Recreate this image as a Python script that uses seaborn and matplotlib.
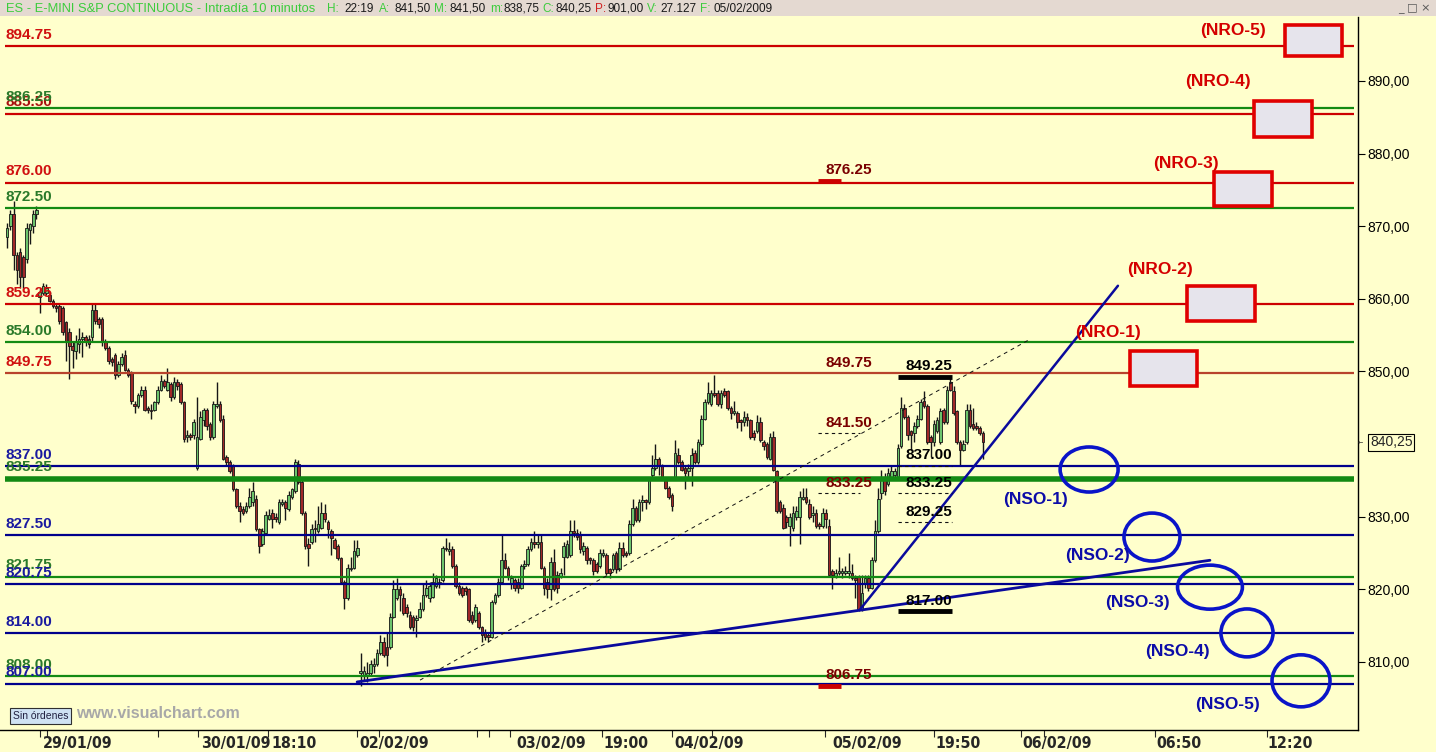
import numpy as np
import pandas as pd
import matplotlib
matplotlib.use("Agg")
import matplotlib.pyplot as plt
import matplotlib.ticker as ticker
import matplotlib.transforms as mtrans
from matplotlib import font_manager as fm
from matplotlib.patches import Rectangle, Ellipse
import seaborn as sns

# velas de 10 minutos (29/01/09 - 05/02/09)
opens = [868.5, 870.0, 871.75, 866.0, 866.5, 865.75, 865.5, 869.5, 870.0, 871.75,
         860.25, 860.75, 860.75, 860.5, 859.75, 859.0, 859.0, 858.75, 856.75, 855.5,
         853.5, 852.75, 853.75, 854.5, 854.75, 854.5, 854.75, 858.5, 857.25, 857.25,
         854.25, 853.25, 851.75, 852.25, 849.5, 851.0, 852.25, 850.25, 849.75, 845.5,
         845.25, 846.75, 847.5, 845.0, 844.75, 844.75, 845.75, 847.5, 848.75, 847.5,
         848.25, 846.5, 848.5, 848.25, 845.75, 841.0, 841.25, 841.25,
         836.75, 840.75, 843.25, 844.75, 842.75, 841.0, 845.25, 845.5, 843.5, 838.25,
         837.5, 837.0, 833.75, 831.5, 831.0, 830.75, 831.5, 832.0, 832.5, 828.25,
         826.25, 827.75, 829.75, 830.5, 830.0, 829.25, 831.75, 832.0, 831.0, 832.75,
         833.5, 837.25, 834.75, 830.5, 826.25, 826.5, 828.5, 828.0, 828.5, 830.5,
         829.25, 828.0, 826.75, 826.0, 824.25, 821.0, 818.75, 822.75, 823.0, 824.75,
         808.5, 808.25, 808.25, 808.5, 809.5, 809.75, 811.25, 812.75, 812.0, 812.0,
         816.25, 818.75, 820.0, 818.75, 817.5, 816.5, 816.25, 815.75, 816.25, 817.25,
         819.25, 818.75, 819.0, 820.5, 820.75, 821.25, 825.75, 825.25, 825.5, 823.25,
         820.5, 820.25, 820.25, 820.0, 816.5, 815.75, 816.75, 814.75, 814.0, 813.75,
         813.5, 818.25, 819.25, 821.0, 824.0, 823.0, 820.75, 821.25, 821.0, 820.25,
         823.25, 823.5, 825.5, 826.5, 826.25, 826.5, 823.0, 821.0, 820.0, 823.75,
         822.0, 821.75, 824.5, 824.5, 824.75, 828.0, 827.75, 827.5, 825.25, 825.75,
         824.25, 824.0, 823.5, 823.25, 824.75, 824.75, 822.75, 822.75, 825.0, 822.75,
         825.75, 825.0, 825.0, 829.0, 831.25, 829.5, 832.0, 832.25, 832.0, 835.75,
         836.75, 838.0, 837.0, 835.25, 834.0, 833.0, 835.25, 838.5, 837.5, 836.75,
         836.25, 836.75, 838.75, 837.5, 840.0, 843.5, 845.75, 845.5, 847.0, 847.0,
         845.5, 847.25, 847.25, 845.0, 844.25, 844.25, 843.25, 843.0, 843.75, 843.25,
         841.5, 841.75, 843.0, 840.25, 840.0, 838.0, 841.0, 836.25, 832.0, 831.25,
         830.0, 828.75, 828.5, 830.0, 830.0, 832.5, 832.75, 831.75, 830.25, 830.5,
         829.0, 828.75, 830.5, 828.75, 822.5, 821.75, 822.25, 822.25, 822.25, 822.25,
         822.25, 821.5, 821.75, 817.25, 820.75, 821.5, 820.25, 824.0, 828.0, 833.25,
         835.5, 834.5, 835.25, 835.75, 835.5, 839.75, 845.0, 843.75, 841.75, 841.5,
         842.5, 843.5, 846.0, 845.25, 841.0, 840.25, 841.75, 840.25, 844.75, 843.0,
         848.5, 847.25, 844.5, 840.25, 839.25, 840.25, 844.75, 842.75, 842.5, 842.25,
         841.5]
highs = [870.5, 872.25, 873.5, 866.5, 867.0, 866.0, 870.5, 870.5, 872.25, 872.75,
         861.5, 862.25, 862.0, 861.0, 860.0, 859.25, 859.25, 859.0, 857.0, 856.0,
         854.0, 855.0, 856.0, 855.5, 855.0, 855.0, 859.25, 859.25, 857.5, 857.5,
         854.5, 853.5, 852.0, 852.5, 851.5, 852.5, 853.0, 850.5, 850.0, 846.0,
         847.0, 848.0, 848.0, 845.25, 845.5, 846.0, 848.0, 849.5, 849.0, 850.5,
         848.5, 849.25, 849.0, 848.5, 846.0, 842.0, 841.5, 843.5,
         846.5, 844.5, 845.0, 845.0, 843.0, 846.0, 848.5, 846.0, 844.0, 838.5,
         837.75, 837.25, 834.0, 832.0, 831.5, 832.0, 834.0, 834.75, 833.0, 828.5,
         828.5, 830.75, 831.0, 831.0, 830.5, 832.5, 832.5, 832.25, 833.5, 834.0,
         838.0, 837.75, 835.0, 830.75, 827.0, 829.0, 829.5, 831.5, 832.0, 831.75,
         829.5, 828.25, 827.0, 826.25, 824.5, 821.25, 823.5, 824.5, 826.75, 826.75,
         811.25, 809.5, 810.0, 810.25, 810.5, 811.75, 813.75, 813.5, 814.0, 816.75,
         821.25, 821.5, 820.5, 819.5, 818.0, 817.0, 816.5, 816.5, 818.25, 820.75,
         821.25, 821.0, 822.25, 822.0, 821.5, 826.0, 827.0, 826.5, 826.0, 823.5,
         821.0, 820.5, 820.5, 820.25, 817.0, 818.0, 817.0, 815.0, 814.5, 814.0,
         818.5, 819.5, 821.5, 827.5, 825.0, 823.25, 822.0, 821.5, 821.5, 823.5,
         824.0, 826.0, 827.0, 828.0, 827.5, 827.5, 823.25, 821.5, 824.5, 825.5,
         822.5, 823.0, 826.5, 826.75, 829.5, 829.5, 828.25, 828.0, 826.5, 826.0,
         824.5, 824.25, 823.75, 825.5, 825.5, 825.0, 823.0, 825.0, 825.25, 826.5,
         826.5, 825.25, 829.5, 832.5, 831.5, 832.5, 833.0, 832.5, 835.5, 838.5,
         840.0, 838.25, 837.25, 835.5, 834.25, 833.25, 840.5, 839.5, 837.75, 837.0,
         837.25, 839.5, 839.25, 840.75, 844.0, 846.25, 848.5, 847.5, 849.5, 847.5,
         847.5, 847.75, 847.5, 845.25, 846.0, 844.5, 843.5, 844.5, 844.25, 843.5,
         842.0, 844.0, 843.75, 840.5, 840.25, 841.5, 841.75, 836.5, 832.25, 831.75,
         830.25, 830.5, 831.5, 831.5, 833.5, 834.0, 834.0, 832.5, 831.5, 831.0,
         829.25, 831.25, 831.0, 829.75, 822.75, 822.75, 824.5, 823.0, 823.25, 825.0,
         823.5, 822.0, 822.0, 822.0, 822.0, 822.0, 824.5, 829.5, 834.0, 836.5,
         836.0, 836.75, 837.0, 836.75, 840.0, 846.5, 845.5, 844.0, 842.0, 843.0,
         844.0, 846.25, 847.25, 845.5, 841.25, 843.25, 843.75, 845.0, 845.0, 848.0,
         849.25, 848.0, 844.75, 840.5, 840.5, 845.5, 845.5, 845.0, 843.0, 842.5,
         841.75]
lows = [867.0, 869.5, 864.0, 862.0, 861.5, 861.5, 865.0, 867.5, 869.0, 871.0,
        858.0, 860.5, 860.5, 859.5, 858.75, 858.25, 856.5, 855.0, 851.5, 849.0,
        850.5, 851.75, 852.5, 852.0, 853.5, 853.25, 854.25, 856.5, 856.0, 853.5,
        853.0, 851.0, 850.75, 849.0, 849.25, 850.75, 850.0, 849.25, 845.5, 844.25,
        845.0, 846.5, 844.5, 844.25, 843.5, 844.5, 845.5, 847.25, 847.75, 847.25,
        846.0, 846.25, 847.5, 845.5, 840.25, 840.25, 840.5, 840.75,
        836.5, 840.5, 842.5, 842.0, 840.5, 840.75, 845.0, 843.0, 837.75, 837.0,
        836.0, 833.5, 831.25, 829.25, 830.25, 830.5, 831.25, 831.5, 828.0, 825.0,
        826.0, 827.5, 829.5, 828.5, 829.25, 829.0, 831.5, 829.5, 830.75, 832.5,
        833.25, 834.5, 830.25, 825.5, 823.25, 826.25, 826.5, 827.75, 828.25, 829.25,
        827.0, 824.75, 825.5, 824.0, 820.75, 817.25, 818.5, 822.5, 822.75, 824.5,
        806.75, 807.5, 807.25, 808.0, 808.5, 809.5, 811.0, 810.75, 809.5, 811.75,
        816.0, 818.5, 817.0, 816.5, 816.25, 814.5, 814.25, 813.5, 816.0, 817.0,
        819.0, 818.25, 818.75, 820.25, 820.25, 821.0, 825.25, 824.75, 823.0, 820.25,
        819.25, 819.0, 819.25, 815.5, 815.25, 815.5, 814.5, 812.75, 813.0, 812.75,
        813.25, 818.0, 819.0, 820.75, 822.75, 821.25, 820.0, 819.75, 819.5, 820.0,
        822.75, 823.25, 825.25, 825.75, 825.75, 822.75, 819.25, 818.75, 818.5, 819.75,
        819.5, 821.5, 822.0, 824.25, 824.5, 827.25, 826.75, 825.0, 824.75, 823.5,
        823.5, 822.0, 822.25, 823.0, 824.5, 822.0, 821.5, 822.5, 822.25, 822.5,
        824.5, 824.5, 824.75, 828.75, 829.25, 829.25, 830.75, 831.0, 831.75, 835.5,
        836.5, 835.75, 835.0, 833.75, 832.5, 830.75, 835.0, 837.25, 836.25, 833.75,
        835.5, 834.25, 837.25, 837.25, 839.75, 843.25, 845.5, 845.25, 846.5, 845.25,
        845.0, 846.5, 844.75, 843.5, 844.0, 842.25, 841.75, 842.5, 842.5, 840.75,
        840.5, 841.5, 840.25, 839.25, 838.0, 837.75, 836.25, 830.5, 830.5, 828.25,
        828.5, 826.0, 828.0, 829.5, 826.25, 832.25, 831.75, 829.75, 829.25, 828.5,
        828.25, 828.5, 828.5, 821.75, 820.0, 821.5, 822.0, 821.5, 822.0, 821.5,
        821.25, 818.75, 817.0, 817.0, 820.25, 819.75, 820.0, 823.75, 827.75, 832.5,
        833.0, 834.25, 835.0, 835.5, 835.25, 839.5, 843.5, 840.5, 839.25, 840.25,
        842.25, 843.25, 845.0, 840.0, 838.25, 839.75, 841.5, 840.0, 842.75, 842.75,
        847.25, 844.0, 840.0, 837.0, 839.0, 840.0, 842.25, 842.0, 842.0, 841.25,
        838.0]
closes = [869.75, 871.75, 866.0, 864.0, 863.0, 863.0, 869.75, 870.25, 871.75, 872.25,
          861.0, 861.75, 861.5, 859.75, 859.0, 858.75, 857.0, 855.5, 854.0, 853.5,
          853.0, 854.0, 854.5, 854.75, 854.25, 853.75, 858.5, 857.0, 856.5, 854.0,
          853.25, 851.5, 851.25, 849.5, 851.0, 852.0, 850.25, 849.5, 846.0, 845.25,
          846.75, 847.5, 844.75, 844.75, 844.5, 845.75, 847.5, 848.75, 848.0, 848.5,
          846.5, 848.5, 848.0, 845.75, 840.75, 841.25, 841.0, 843.0,
          841.0, 843.75, 844.75, 842.5, 841.0, 845.5, 845.5, 843.25, 838.0, 837.5,
          836.25, 833.75, 831.5, 830.75, 830.5, 831.5, 832.75, 833.5, 828.25, 826.0,
          828.0, 830.25, 830.25, 829.75, 829.75, 832.0, 832.0, 831.25, 833.0, 833.75,
          837.5, 834.75, 830.5, 826.0, 825.75, 828.25, 828.25, 829.0, 830.5, 829.75,
          828.25, 827.0, 825.75, 824.25, 821.0, 818.75, 823.0, 823.0, 825.25, 825.75,
          808.75, 808.75, 808.5, 809.75, 809.75, 811.25, 812.75, 811.0, 811.0, 816.25,
          820.0, 820.0, 819.25, 816.75, 816.75, 814.75, 814.75, 816.0, 817.25, 819.25,
          820.25, 820.5, 821.0, 821.5, 821.0, 825.75, 825.5, 825.5, 823.25, 820.5,
          819.5, 819.25, 819.75, 815.75, 815.5, 817.5, 814.75, 813.75, 813.5, 813.5,
          818.25, 819.25, 821.0, 824.0, 823.0, 821.75, 821.5, 820.25, 820.25, 823.25,
          823.5, 825.5, 826.5, 826.25, 826.5, 823.0, 820.25, 820.0, 823.75, 820.0,
          820.25, 822.25, 826.0, 826.25, 828.0, 827.75, 827.25, 825.5, 826.0, 824.0,
          824.0, 822.5, 822.5, 825.0, 825.0, 822.25, 822.25, 824.75, 822.75, 825.75,
          824.75, 824.75, 829.0, 831.25, 829.5, 832.0, 832.25, 832.0, 835.25, 836.75,
          838.0, 837.0, 835.25, 834.0, 832.75, 831.5, 838.75, 837.5, 836.5, 836.0,
          836.75, 838.5, 837.5, 840.25, 843.5, 845.75, 847.0, 847.0, 846.75, 845.5,
          847.0, 846.75, 845.0, 844.25, 844.5, 843.0, 843.0, 843.75, 843.25, 841.0,
          841.0, 843.0, 840.5, 839.75, 838.25, 841.0, 836.5, 830.75, 830.75, 828.5,
          829.25, 830.0, 830.5, 830.75, 832.75, 832.75, 832.0, 830.0, 830.5, 828.75,
          828.75, 830.5, 829.75, 822.0, 822.0, 822.25, 822.5, 822.5, 822.5, 822.5,
          821.5, 821.25, 817.25, 819.5, 821.5, 820.25, 824.0, 828.0, 832.5, 835.5,
          833.5, 836.0, 836.25, 836.25, 839.5, 845.0, 843.75, 841.25, 841.25, 842.5,
          843.5, 845.75, 845.25, 840.25, 840.25, 842.75, 843.25, 844.5, 843.0, 847.5,
          847.5, 844.25, 840.25, 839.25, 840.0, 844.75, 842.5, 842.25, 842.25, 841.5,
          840.25]

# niveles horizontales
red_levels = [894.75, 885.50, 876.00, 859.25, 849.75]
green_levels = [886.25, 872.50, 854.00, 835.25, 821.75, 808.00]
blue_levels = [837.00, 827.50, 820.75, 814.00, 807.00]

# marcas del centro del grafico
mid_red_vals = [876.25, 849.75, 841.50, 833.25, 806.75]
mid_red_style = ["thick", "none", "dash", "dash", "thick"]
mid_black_vals = [849.25, 837.00, 833.25, 829.25, 817.00]
mid_black_style = ["thick", "dash", "dash", "dash", "thick"]

# lineas de tendencia (indice de vela, precio)
trend_lo_x = [106.9, 367.3]
trend_lo_y = [807.25, 824.0]
trend_up_x = [260.5, 339.2]
trend_up_y = [817.25, 861.8]
trend_dash_x = [126.1, 311.8]
trend_dash_y = [807.5, 854.3]

# objetivos
nro_labels = ["(NRO-1)", "(NRO-2)", "(NRO-3)", "(NRO-4)", "(NRO-5)"]
nro_box_x = [(342.9, 363.4), (360.3, 381.1), (368.5, 386.3), (380.8, 398.5), (390.2, 407.6)]
nro_box_y = [(848.0, 852.8), (857.0, 861.8), (872.8, 877.5), (882.3, 887.2), (893.4, 897.7)]
nro_lab_x = [326.1, 342.0, 349.9, 359.7, 364.3]
nro_lab_y = [855.3, 864.0, 878.7, 889.9, 896.9]

nso_labels = ["(NSO-1)", "(NSO-2)", "(NSO-3)", "(NSO-4)", "(NSO-5)"]
nso_cx = [330.4, 349.6, 367.3, 378.6, 395.1]
nso_cy = [836.5, 827.2, 820.3, 814.0, 807.4]
nso_w = [17.7, 17.1, 19.8, 15.9, 17.7]
nso_h = [6.2, 6.6, 6.06, 6.6, 7.16]
nso_lab_x = [304.1, 323.1, 335.3, 347.5, 362.7]
nso_lab_y = [832.4, 824.6, 818.2, 811.5, 804.1]

# eje de tiempo
tick_pos = [10.1, 12.2, 46.1, 58.3, 79.7, 106.9, 113.6, 143.5, 147.2, 153.6, 181.7,
            203.1, 215.3, 249.8, 283.1, 309.6, 316.6, 350.5, 384.7]
date_labels = ["29/01/09", "30/01/09", "18:10", "02/02/09", "03/02/09", "19:00",
               "04/02/09", "05/02/09", "19:50", "06/02/09", "06:50", "12:20"]
date_pos = [10.7, 58.9, 80.3, 107.2, 155.1, 181.7, 203.4, 251.6, 283.1, 309.6, 350.5, 384.4]

last_price = 840.25

BG = "#ffffcc"
sns.set_theme(style="white", rc={"axes.facecolor": BG, "figure.facecolor": BG})
plt.rcParams["font.family"] = ["Liberation Sans", "DejaVu Sans"]

# fuente estrecha para el eje de tiempo, si hay alguna
fonts = fm.fontManager.ttflist
if any(f.name == "Liberation Sans Narrow" for f in fonts):
    date_font = dict(family=["Liberation Sans Narrow"], fontsize=12.5)
elif any(f.name == "DejaVu Sans" and f.stretch == "condensed" and f.weight == 700 for f in fonts):
    date_font = dict(family=["DejaVu Sans"], fontstretch="condensed", fontsize=11.4)
else:
    date_font = dict(family=["Liberation Sans"], fontsize=11)

W, H = 1436, 752
fig = plt.figure(figsize=(W / 100, H / 100), dpi=100)
ax = fig.add_axes([0, 22 / H, 1358 / W, 713 / H])
ax.set_facecolor(BG)

df = pd.DataFrame({"open": opens, "high": highs, "low": lows, "close": closes})
df["i"] = np.arange(len(df))
up = df["close"] >= df["open"]
body_lo = df[["open", "close"]].min(axis=1)
body_h = (df["close"] - df["open"]).abs().clip(lower=0.2)

ax.vlines(df["i"], df["low"], df["high"], color="#161616", lw=1.0, zorder=2)
ax.bar(df["i"], body_h, bottom=body_lo, width=0.8,
       color=np.where(up, "#6cc46c", "#a02828"), edgecolor="#161616",
       linewidth=0.6, zorder=3)

x0, x1 = -0.6, 411.4
for lv in red_levels:
    col = "#b8432c" if lv == 849.75 else "#cc0000"
    ax.hlines(lv, x0, x1, color=col, lw=1.6, zorder=4)
for lv in green_levels:
    ax.hlines(lv, x0, x1, color="#138a13", lw=4.0 if lv == 835.25 else 1.6, zorder=4)
for lv in blue_levels:
    ax.hlines(lv, x0, x1, color="#00008c", lw=1.6, zorder=4)

lab_kw = dict(fontsize=11, fontweight="bold", va="center", ha="left", zorder=6)
for lv in red_levels:
    ax.text(x0, lv + 1.55, f"{lv:.2f}", color="#a81010" if lv == 885.50 else "#d01010", **lab_kw)
for lv in green_levels:
    ax.text(x0, lv + 1.55, f"{lv:.2f}", color="#2a7a2a", **lab_kw)
for lv in blue_levels:
    ax.text(x0, lv + 1.55, f"{lv:.2f}", color="#1a1aa0", **lab_kw)

# lineas de tendencia
ax.plot(trend_lo_x, trend_lo_y, color="#0a0a9c", lw=2.0, zorder=5)
ax.plot(trend_up_x, trend_up_y, color="#0a0a9c", lw=1.8, zorder=5)
ax.plot(trend_dash_x, trend_dash_y, color="#111111", lw=0.7, ls=(0, (4, 4)), zorder=5)

# etiquetas del centro
def mid_mark(xl, xr, val, style, color, line_color):
    ax.text(xl + 2.3, val + 1.45, f"{val:.2f}", color=color, **lab_kw)
    if style == "thick":
        ax.hlines(val, xl, xl + (xr - xl) * 0.55 if line_color != "black" else xr,
                  color=line_color, lw=3.5, zorder=6)
    elif style == "dash":
        ax.hlines(val, xl, xr, color="#111111", lw=0.8, ls=(0, (3, 3)), zorder=6)

for v, s in zip(mid_red_vals, mid_red_style):
    mid_mark(247.6, 260.5, v, s, "#7a0000", "#cc0000")
for v, s in zip(mid_black_vals, mid_black_style):
    mid_mark(272.1, 288.6, v, s, "#000000", "black")

# cajas NRO
for lab, bx, by, lx, ly in zip(nro_labels, nro_box_x, nro_box_y, nro_lab_x, nro_lab_y):
    ax.add_patch(Rectangle((bx[0], by[0]), bx[1] - bx[0], by[1] - by[0],
                           facecolor="#e6e4ec", edgecolor="#e00000", lw=2.6, zorder=6))
    ax.text(lx, ly, lab, color="#d40000", fontsize=12.5, fontweight="bold",
            va="center", ha="left", zorder=7)

# elipses NSO
for lab, cx, cy, w, h, lx, ly in zip(nso_labels, nso_cx, nso_cy, nso_w, nso_h, nso_lab_x, nso_lab_y):
    ax.add_patch(Ellipse((cx, cy), w, h, fill=False, edgecolor="#0a14c8", lw=2.6, zorder=6))
    ax.text(lx, ly, lab, color="#0c0ca8", fontsize=12.5, fontweight="bold",
            va="center", ha="left", zorder=7)

ax.set_xlim(-2.14, 412.5)
ax.set_ylim(800.63, 898.81)

# ejes
for side in ["left", "top"]:
    ax.spines[side].set_visible(False)
for side in ["right", "bottom"]:
    ax.spines[side].set_color("black")
    ax.spines[side].set_linewidth(1.0)

ax.yaxis.tick_right()
# la marca de 840 queda tapada por la caja del ultimo precio
yticks = [t for t in np.arange(810, 891, 10) if abs(t - last_price) > 3]
ax.set_yticks(yticks)
ax.yaxis.set_major_formatter(ticker.FuncFormatter(lambda v, p: f"{v:.2f}".replace(".", ",")))
ax.tick_params(axis="y", direction="out", length=5, width=0.8, pad=2, labelsize=10,
               colors="black", right=True, left=False)
ax.set_xticks(tick_pos)
ax.set_xticklabels([])
ax.tick_params(axis="x", direction="out", length=5, width=0.8, bottom=True)
ax.grid(False)

xt = ax.get_xaxis_transform()
for p, lab in zip(date_pos, date_labels):
    ax.text(p + 0.3, -0.009, lab, transform=xt, ha="left", va="top",
            fontweight="bold", clip_on=False, **date_font)

# precio actual
yt = mtrans.blended_transform_factory(ax.transAxes, ax.transData)
ax.text(1.0 + 12 / 1358, last_price, f"{last_price:.2f}".replace(".", ","), transform=yt,
        ha="left", va="center", fontsize=10, clip_on=False,
        bbox=dict(boxstyle="square,pad=0.12", facecolor=BG, edgecolor="black", lw=0.8))
ax.text(1.0 - 0.5 / 1358, last_price, "\u2190", transform=yt, ha="left", va="center",
        fontsize=4.5, clip_on=False, family=["DejaVu Sans"])

# barra de titulo
fig.patches.append(Rectangle((0, 1 - 16 / H), 1, 16 / H, transform=fig.transFigure,
                             facecolor="#e4d9d1", edgecolor="none", zorder=0))
fig.text(6 / W, 1 - 8.5 / H, "ES - E-MINI S&P CONTINUOUS - Intradía 10 minutos",
         color="#3ccc3c", fontsize=9.3, va="center", ha="left")
title_parts = [
    (327, "H:", "#3ccc3c"), (344, "22:19", "#1a1a1a"),
    (379, "A:", "#3ccc3c"), (394, "841,50", "#1a1a1a"),
    (434, "M:", "#3ccc3c"), (449, "841,50", "#1a1a1a"),
    (490, "m:", "#3ccc3c"), (503, "838,75", "#1a1a1a"),
    (542, "C:", "#3ccc3c"), (555, "840,25", "#1a1a1a"),
    (595, "P:", "#d02020"), (608, "901,00", "#1a1a1a"),
    (647, "V:", "#3ccc3c"), (660, "27.127", "#1a1a1a"),
    (700, "F:", "#3ccc3c"), (714, "05/02/2009", "#1a1a1a"),
]
for px, txt, col in title_parts:
    fig.text(px / W, 1 - 8.5 / H, txt, color=col, fontsize=8.5, va="center", ha="left")
fig.text(1398 / W, 1 - 8 / H, "_ \u25a1 \u00d7", color="#555555", fontsize=8, va="center", ha="left",
         family=["DejaVu Sans"])

# pie
fig.text(13 / W, 1 - 716 / H, "Sin órdenes", fontsize=7.5, va="center", ha="left", color="#202040",
         bbox=dict(boxstyle="square,pad=0.25", facecolor="#cfe2f3", edgecolor="#303030", lw=0.8))
fig.text(76 / W, 1 - 714 / H, "www.visualchart.com", fontsize=11.5, fontweight="bold",
         color="#a8a8a8", va="center", ha="left")

fig.savefig("out.png", dpi=100, facecolor=BG)
